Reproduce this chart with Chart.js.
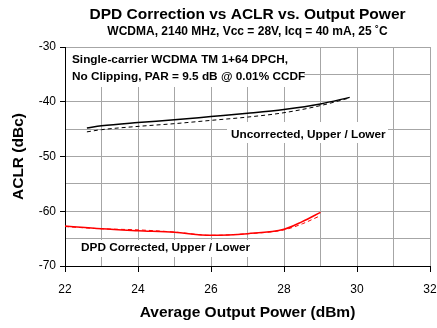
<!DOCTYPE html>
<html>
<head>
<meta charset="utf-8">
<script src="https://cdn.jsdelivr.net/npm/chart.js@4/dist/chart.umd.min.js"></script>
<style>
  html, body { margin: 0; padding: 0; background: #fff; }
  #wrap { width: 437px; height: 328px; }
</style>
</head>
<body>
<div id="wrap"><canvas id="aclrChart" width="437" height="328"></canvas></div>
<script>
// ACLR vs output power, with and without DPD

// output power (dBm)
const powerUncorrected = [22.6, 23, 24, 25, 26, 27, 28, 29, 29.8];
const powerCorrected = [22, 23, 24, 25, 26, 27, 28, 28.5, 29];

// ACLR (dBc)
const uncorrectedUpper = [-44.8, -44.4, -43.8, -43.3, -42.7, -42.1, -41.4, -40.4, -39.2];
const uncorrectedLower = [-45.5, -45.1, -44.5, -44.0, -43.4, -42.8, -42.0, -40.7, -39.3];
const correctedUpper = [-62.7, -63.2, -63.55, -63.85, -64.4, -64.1, -63.3, -61.9, -60.2];
const correctedLower = [-62.8, -63.2, -63.4, -63.8, -64.4, -64.1, -63.4, -62.3, -60.8];

// labelled ticks
const xTicks = [22, 24, 26, 28, 30, 32];
const yTicks = [-30, -40, -50, -60, -70];

const noteLines = ['Single-carrier WCDMA TM 1+64 DPCH,', 'No Clipping, PAR = 9.5 dB @ 0.01% CCDF'];
const uncorrectedLabel = 'Uncorrected, Upper / Lower';
const correctedLabel = 'DPD Corrected, Upper / Lower';

const FONT = "'Liberation Sans', Arial, sans-serif";

function toPoints(xs, ys) {
    return xs.map((x, i) => ({ x: x, y: ys[i] }));
}

// white boxes with bold text on top of the grid
const notesPlugin = {
    id: 'notes',
    beforeDatasetsDraw(chart) {
        const ctx = chart.ctx;
        const a = chart.chartArea;
        ctx.save();
        ctx.font = 'bold 11.8px ' + FONT;
        ctx.textBaseline = 'middle';
        ctx.textAlign = 'left';

        const boxes = [
            { x: a.left + 1, y: a.top + 1, w: 238, h: 39, lines: noteLines, tx: 6, ty: 12, lh: 17 },
            { x: 227, y: 122, w: 161, h: 21, lines: [uncorrectedLabel], tx: 4, ty: 13, lh: 0 },
            { x: 79, y: 240, w: 173, h: 17, lines: [correctedLabel], tx: 2, ty: 7.5, lh: 0 }
        ];
        boxes.forEach(b => {
            ctx.fillStyle = '#fff';
            ctx.fillRect(b.x, b.y, b.w, b.h);
            ctx.fillStyle = '#000';
            b.lines.forEach((t, i) => {
                ctx.fillText(t, b.x + b.tx, b.y + b.ty + i * b.lh);
            });
        });
        ctx.restore();
    }
};

const chart = new Chart(document.getElementById('aclrChart'), {
    type: 'line',
    data: {
        datasets: [{
            label: 'Uncorrected Upper',
            data: toPoints(powerUncorrected, uncorrectedUpper),
            borderColor: '#000',
            borderWidth: 1.5
        }, {
            label: 'Uncorrected Lower',
            data: toPoints(powerUncorrected, uncorrectedLower),
            borderColor: '#000',
            borderWidth: 1,
            borderDash: [4, 3]
        }, {
            label: 'DPD Corrected Upper',
            data: toPoints(powerCorrected, correctedUpper),
            borderColor: '#ff0000',
            borderWidth: 1.5
        }, {
            label: 'DPD Corrected Lower',
            data: toPoints(powerCorrected, correctedLower),
            borderColor: '#ff0000',
            borderWidth: 1,
            borderDash: [4, 3]
        }]
    },
    options: {
        responsive: false,
        animation: false,
        layout: { padding: 0 },
        elements: {
            point: { radius: 0 },
            line: { tension: 0.4, cubicInterpolationMode: 'monotone', fill: false }
        },
        plugins: {
            legend: { display: false },
            tooltip: { enabled: false },
            title: {
                display: true,
                text: 'DPD Correction vs ACLR vs. Output Power',
                fullSize: false,
                color: '#000',
                font: { family: FONT, size: 15.5, weight: 'bold' },
                padding: { top: 5.7, bottom: 0 }
            },
            subtitle: {
                display: true,
                text: 'WCDMA, 2140 MHz, Vcc = 28V, Icq = 40 mA, 25 ˚C',
                fullSize: false,
                color: '#000',
                font: { family: FONT, size: 12, weight: 'bold' },
                padding: { top: 0, bottom: 8.3 }
            }
        },
        scales: {
            x: {
                type: 'linear',
                min: 22,
                max: 32,
                afterFit(scale) {
                    scale.height = 62;
                    // leave just enough room for the "32" label
                    scale.paddingLeft = 0;
                    scale.paddingRight = 7;
                },
                border: { color: '#000', width: 1 },
                grid: {
                    color: '#a6a6a6',
                    tickLength: 6,
                    tickColor: c => xTicks.includes(c.tick.value) ? '#000' : 'rgba(0,0,0,0)'
                },
                ticks: {
                    stepSize: 1,
                    autoSkip: false,
                    maxRotation: 0,
                    padding: 10,
                    color: '#000',
                    font: { family: FONT, size: 12 },
                    callback: v => xTicks.includes(v) ? String(v) : ''
                },
                title: {
                    display: true,
                    text: 'Average Output Power (dBm)',
                    color: '#000',
                    font: { family: FONT, size: 15.5, weight: 'bold' },
                    padding: { top: 0, bottom: 5.7 }
                }
            },
            y: {
                type: 'linear',
                min: -70,
                max: -30,
                afterFit(scale) { scale.width = 65; },
                border: { color: '#000', width: 1 },
                grid: {
                    color: '#a6a6a6',
                    tickLength: 5,
                    tickColor: c => yTicks.includes(c.tick.value) ? '#000' : 'rgba(0,0,0,0)'
                },
                ticks: {
                    stepSize: 5,
                    autoSkip: false,
                    padding: 4,
                    color: '#000',
                    font: { family: FONT, size: 12 },
                    callback: v => yTicks.includes(v) ? String(v) : ''
                },
                title: {
                    display: true,
                    text: 'ACLR (dBc)',
                    color: '#000',
                    font: { family: FONT, size: 15.5, weight: 'bold' },
                    padding: { top: 9.7, bottom: 0 }
                }
            }
        }
    },
    plugins: [notesPlugin]
});
</script>
</body>
</html>
